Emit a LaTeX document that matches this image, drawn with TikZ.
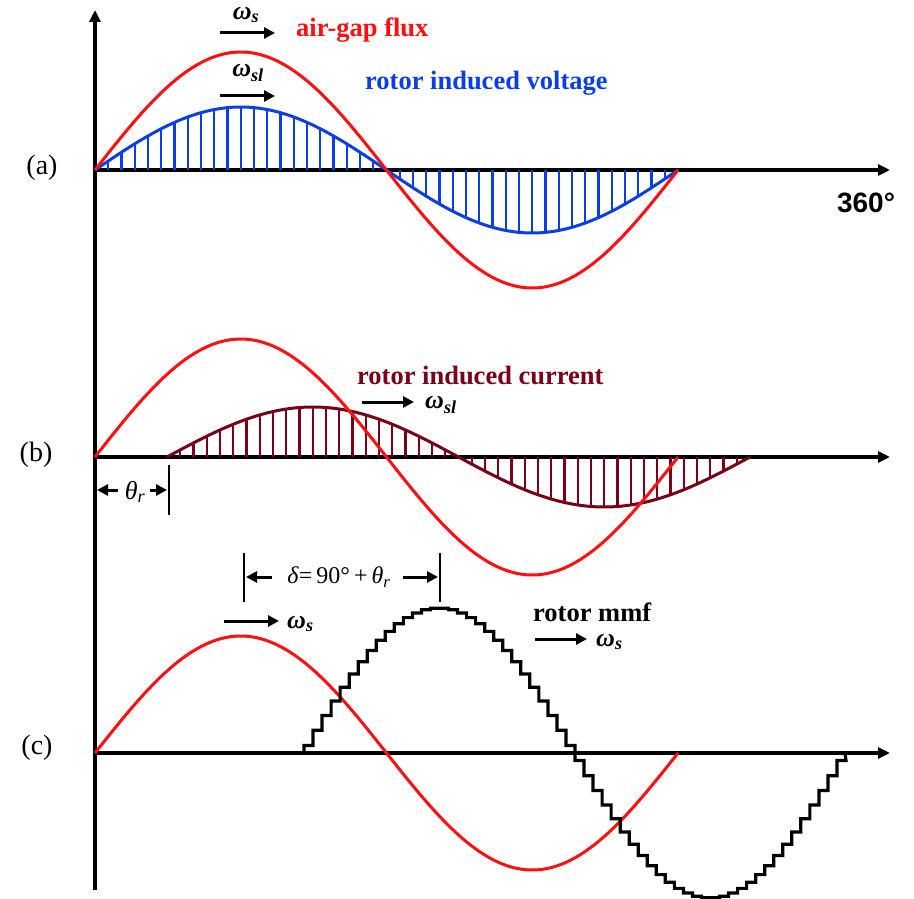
\documentclass[tikz,border=0pt]{standalone}
\usepackage{fontspec}
\setmainfont{Liberation Serif}
\newfontfamily\sansf{Liberation Sans}
\usetikzlibrary{arrows.meta}
\definecolor{fluxred}{RGB}{255,15,15}
\definecolor{volblue}{RGB}{12,62,230}
\definecolor{curmaroon}{RGB}{120,0,25}
\newcommand{\omg}[1]{\textbf{\textit{ω}}\textsubscript{\textbf{\textit{#1}}}}
\begin{document}
\begin{tikzpicture}[x=1pt,y=-1pt,
  axis/.style={line width=3.5pt,-{Triangle[length=12pt,width=11pt]}},
  wave/.style={line width=3pt,line join=round},
  hatch/.style={line width=2.2pt},
  warrow/.style={line width=3pt,-{Triangle[length=11pt,width=11pt]}},
  tick/.style={line width=2.8pt},
  lab/.style={inner sep=0pt,font=\fontsize{26.5}{30}\selectfont\bfseries},
  part/.style={inner sep=0pt,font=\fontsize{28}{32}\selectfont},
  om/.style={inner sep=0pt,font=\fontsize{26}{30}\selectfont}]
\useasboundingbox[fill=white] (0,0) rectangle (914,899);

% axes
\coordinate (vb) at (95,890);
\coordinate (vt) at (95,10);
\draw[axis] (vb) -- (vt);
\coordinate (a0) at (95,170);  \coordinate (a1) at (890,170);
\coordinate (b0) at (95,457);  \coordinate (b1) at (890,457);
\coordinate (c0) at (95,753);  \coordinate (c1) at (890,753);
\draw[axis] (a0) -- (a1);
\draw[axis] (b0) -- (b1);
\draw[axis] (c0) -- (c1);

% (a) rotor induced voltage with hatching
\foreach \i in {1,...,43}{
  \pgfmathsetmacro\xx{95+\i*13.25}
  \draw[hatch,volblue] (\xx,170) -- (\xx,{170-63*sin((\xx-95)/583*360)});
}
\draw[wave,volblue] plot[domain=95:678,samples=120,smooth] (\x,{170-63*sin((\x-95)/583*360)});
\draw[wave,fluxred] plot[domain=95:678,samples=120,smooth] (\x,{170-118*sin((\x-95)/583*360)});

% (b) rotor induced current with hatching
\foreach \i in {1,...,43}{
  \pgfmathsetmacro\xx{167+\i*13.25}
  \draw[hatch,curmaroon] (\xx,457) -- (\xx,{457-50*sin((\xx-167)/583*360)});
}
\draw[wave,curmaroon] plot[domain=167:750,samples=120,smooth] (\x,{457-50*sin((\x-167)/583*360)});
\draw[wave,fluxred] plot[domain=95:678,samples=120,smooth] (\x,{457-118*sin((\x-95)/583*360)});

% (c) air-gap flux and stepped rotor mmf
\draw[wave,fluxred] plot[domain=95:678,samples=120,smooth] (\x,{753-117*sin((\x-95)/583*360)});
\coordinate (ms) at (304,753);
\coordinate (me) at (845,753);
\draw[line width=3.2pt,line join=miter] (ms)
  foreach \k in {0,...,59} {
    -- ({304+\k*9.0333},{753-145*sin((\k+0.5)*6)})
    -- ({304+(\k+1)*9.0333},{753-145*sin((\k+0.5)*6)})
  } -- (me);

% labels (a)
\node[part] (la) at (42,168) {(a)};
\node[om] (ws1) at (246,15) {\omg{s}};
\coordinate (ws1a) at (220,33); \coordinate (ws1b) at (275,33);
\draw[warrow] (ws1a) -- (ws1b);
\node[lab,text=fluxred,anchor=west] (agf) at (296,30) {air-gap flux};
\node[om] (wsl1) at (248,73) {\omg{sl}};
\coordinate (wsl1a) at (220,96); \coordinate (wsl1b) at (275,96);
\draw[warrow] (wsl1a) -- (wsl1b);
\node[lab,text=volblue,anchor=west] (riv) at (365,83) {rotor induced voltage};
\node[inner sep=0pt,font=\sansf\fontsize{28}{32}\selectfont\bfseries] (deg) at (866,203) {360°};

% labels (b)
\node[part] (lb) at (36,455) {(b)};
\node[lab,text=curmaroon,anchor=west] (ric) at (357,375) {rotor induced current};
\coordinate (wsl2a) at (362,402); \coordinate (wsl2b) at (414,402);
\draw[warrow] (wsl2a) -- (wsl2b);
\node[om,anchor=west] (wsl2) at (425,405) {\omg{sl}};
\coordinate (tt) at (169,465); \coordinate (tb) at (169,515);
\draw[tick] (tt) -- (tb);
\node[om] (thr) at (135,492) {\textit{θ}\textsubscript{\textit{r}}};
\coordinate (th1) at (118,490); \coordinate (th2) at (97,490);
\coordinate (th3) at (150,490); \coordinate (th4) at (167,490);
\draw[warrow] (th1) -- (th2);
\draw[warrow] (th3) -- (th4);

% labels (c)
\node[part] (lc) at (37,748) {(c)};
\coordinate (d1t) at (244,553); \coordinate (d1b) at (244,602);
\coordinate (d2t) at (440,553); \coordinate (d2b) at (440,602);
\draw[tick] (d1t) -- (d1b);
\draw[tick] (d2t) -- (d2b);
\node[inner sep=0pt,font=\fontsize{24}{28}\selectfont] (dl) at (339,577) {\textit{δ}=\,90°\,+\,\textit{θ}\textsubscript{\textit{r}}};
\coordinate (da1) at (272,577); \coordinate (da2) at (246,577);
\coordinate (da3) at (403,577); \coordinate (da4) at (438,577);
\draw[warrow] (da1) -- (da2);
\draw[warrow] (da3) -- (da4);
\coordinate (ws2a) at (224,621); \coordinate (ws2b) at (279,621);
\draw[warrow] (ws2a) -- (ws2b);
\node[om,anchor=west] (ws2) at (287,624) {\omg{s}};
\node[lab,anchor=west] (rmmf) at (533,612) {rotor mmf};
\coordinate (ws3a) at (535,639); \coordinate (ws3b) at (587,639);
\draw[warrow] (ws3a) -- (ws3b);
\node[om,anchor=west] (ws3) at (596,642) {\omg{s}};
\end{tikzpicture}
\end{document}
